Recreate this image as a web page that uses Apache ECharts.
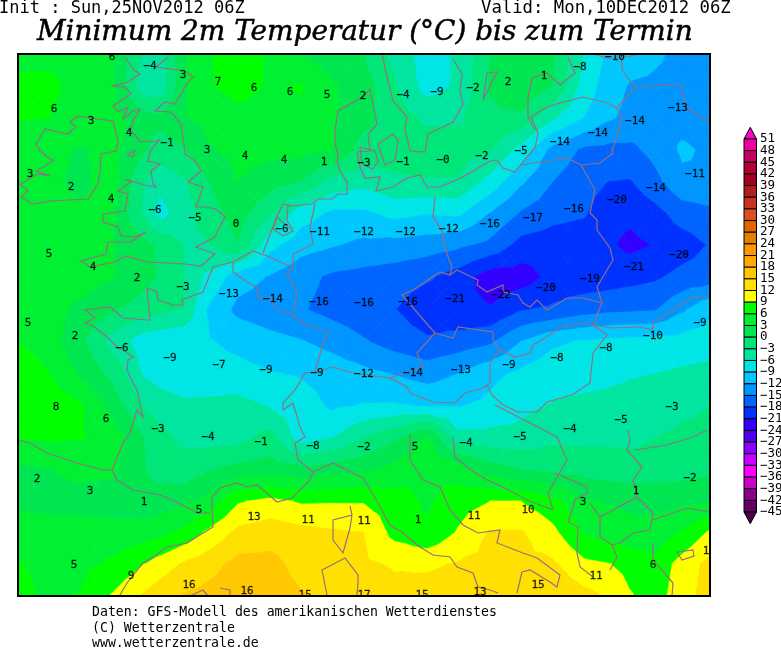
<!DOCTYPE html>
<html><head><meta charset="utf-8">
<style>html,body{margin:0;padding:0;background:#fff}#c{width:781px;height:648px}</style>
<script src="https://cdn.jsdelivr.net/npm/echarts@6/dist/echarts.min.js"></script>
</head><body><div id="c"></div>
<script>
const mapX=[18,49,81,112,144,160,184,207,238,270,301,333,364,395,427,458,490,521,553,584,608,630,655,682,710];
const mapY=[54,86,118,150,182,213,245,277,309,341,373,405,437,469,501,532,564,596];
const t00=[5.3,5.5,5,3.6,-3.2,-4,2.8,5.8,7,5.8,3,1.5,0,-4,-7.5,-5.5,0,2,0.5,-6,-9.5,-10.5,-11.5,-12.7,-13.5];
const t01=[6.5,6.5,5.3,3.7,-5,-5,2.7,5.7,7,5.7,6.2,3.3,1.5,-2.7,-7.2,-5.5,0.5,2.8,0,-7,-10.5,-12.2,-12.5,-13,-13.5];
const t02=[6.2,6,5,4.5,1.5,0.8,2.8,3.8,5.2,5,5.6,3.5,1,-1.5,-3.5,-3.5,-0.8,-0.5,-5.5,-9,-11.5,-12.8,-13,-13,-13.5];
const t03=[5,4,2.7,4,0.3,-1.2,-0.2,2.6,4,4,4,3.1,-1.2,-1.5,-1.5,-1.5,-2.7,-7,-13,-15.5,-15.8,-15.7,-14,-11.5,-12.5];
const t04=[5,3.5,2.4,4.5,-2.8,-5,-3.3,-0.2,3,1.3,0,-4,-5,-3.5,-3.2,-3.2,-7,-11.5,-15,-16.7,-18,-18.2,-15.8,-12.7,-12.3];
const t05=[5,3.7,3.5,3.5,-3.2,-7,-4.3,-1.5,1.5,-2.3,-7.5,-9.5,-9.5,-8,-8.7,-8.3,-12,-15.2,-17,-17.6,-20,-20.3,-19,-16.5,-15.7];
const t06=[5,5,4.7,3.2,1,-0.5,-3,-3.3,0,-8,-10.7,-11.7,-12.7,-13,-13.5,-14.3,-15.7,-19,-19.5,-19.8,-20.5,-21.7,-20.8,-19.5,-17.7];
const t07=[5,5,4.5,3.2,1,-0.2,-3,-6.5,-10.5,-12.2,-14,-15.5,-16,-16.5,-17.5,-19.3,-22.5,-22.5,-20,-19.8,-19.5,-19,-18.4,-17,-16.5];
const t08=[5.2,4.2,2.3,0.5,-1.2,-2,-3,-9,-12.8,-13.8,-14.7,-16,-17,-17.9,-20,-20.5,-20.8,-18.2,-17.5,-16.3,-15.7,-15.5,-15.2,-12.5,-9.6];
const t09=[6,4.5,0.8,-4,-7.5,-8,-8.4,-8.7,-9.8,-11,-11.8,-13,-14.7,-16.3,-17.5,-16.7,-15.5,-12,-9.5,-8.7,-8.3,-8,-8,-7.8,-7.5];
const t10=[8,6,2.5,-0.8,-6.3,-7.3,-8,-7.8,-8,-8.8,-9.3,-10.3,-11.2,-12.2,-13.3,-12,-9.8,-8.4,-7.2,-6.8,-6.5,-6.2,-6,-5.5,-5];
const t11=[8.5,8,6.3,2,-3.2,-4.5,-5.4,-5.3,-5,-6.2,-7.5,-9.5,-8.8,-8.7,-9.3,-9.2,-8.3,-6.8,-5.8,-5.5,-5.4,-5.2,-4.8,-3.8,-3];
const t12=[6.3,6.5,6.3,5,0,-2,-3.8,-4.3,-4,-2,-7.5,-6,-3,-0.5,3.5,-5,-5,-5,-3.7,-3.7,-3.6,-3.7,-3,-2.3,-2];
const t13=[2.5,3,3.8,3.7,0.3,-1.2,-1.8,-0.2,1,1.5,0.8,1.5,2.5,4,6,4.5,1.5,0,-0.7,-1.2,-1.5,-1.7,-1.5,-1.2,-0.7];
const t14=[2.6,2.3,2,1.5,1.2,1.5,2.3,3.8,8.7,10,8.7,8.8,8.8,7.5,5.5,7.7,9,9,7,3.5,2.8,2.2,2,2.2,2.7];
const t15=[4,4,4.2,4.3,4.5,5,6.8,9.5,12.8,13.7,13,12.4,12,8,6.5,9.3,12.3,12.3,9.8,5.7,4.8,4.3,4,6.3,9.5];
const t16=[6.2,5.3,5.3,6.5,9,10.5,12.5,13.8,16,16,14,13,12.5,11.7,11.5,12.3,13,12.8,12.5,9.8,9.2,8,7,10.3,13];
const t17=[6.8,5.5,6.2,9.3,12.5,13.8,15.3,16,17,16.7,15.3,14,14,13,13.5,14,14.7,14.5,14.5,13,11.8,9.3,7.8,10.7,13.5];
const field=[t00,t01,t02,t03,t04,t05,t06,t07,t08,t09,t10,t11,t12,t13,t14,t15,t16,t17];

const scaleTicks=[51,48,45,42,39,36,33,30,27,24,21,18,15,12,9,6,3,0,-3,-6,-9,-12,-15,-18,-21,-24,-27,-30,-33,-36,-39,-42,-45];
// one colour per band, from above 51 down to below -45
const bandColors=['#ff00c8','#f000a0','#c80064','#b40032','#a50020','#b41e1e','#c83220','#dc5020','#e66400','#e08200','#ff9600','#ffaa00','#ffc800','#ffe000','#ffff00','#00ff00','#00f032','#00e650','#00e678','#00e6a0','#00e6e6','#00c8ff','#0096ff','#0064ff','#0032ff','#3200ff','#5000f0','#8c00ff','#c800ff','#ff00ff','#c800c8','#8c008c','#640064','#4b004b'];

const stationLabels=[
[112,57,'6'],[150,66,'−4'],[183,75,'3'],[218,82,'7'],[254,88,'6'],[290,92,'6'],[327,95,'5'],[363,96,'2'],[403,95,'−4'],[437,92,'−9'],[473,88,'−2'],[508,82,'2'],[544,76,'1'],[580,67,'−8'],[615,57,'−10'],
[678,108,'−13'],[635,121,'−14'],[598,133,'−14'],[560,142,'−14'],[521,151,'−5'],[482,156,'−2'],[443,160,'−0'],[403,162,'−1'],[364,163,'−3'],[324,162,'1'],[284,160,'4'],[245,156,'4'],[207,150,'3'],[167,143,'−1'],[129,133,'4'],[91,121,'3'],[54,109,'6'],
[30,174,'3'],[71,187,'2'],[111,199,'4'],[155,210,'−6'],[195,218,'−5'],[236,224,'0'],[282,229,'−6'],[320,232,'−11'],[364,232,'−12'],[406,232,'−12'],[449,229,'−12'],[490,224,'−16'],[533,218,'−17'],[574,209,'−16'],[617,200,'−20'],[656,188,'−14'],[695,174,'−11'],
[49,254,'5'],[93,267,'4'],[137,278,'2'],[183,287,'−3'],[229,294,'−13'],[273,299,'−14'],[319,302,'−16'],[364,303,'−16'],[408,302,'−16'],[455,299,'−21'],[501,295,'−22'],[546,288,'−20'],[590,279,'−19'],[634,267,'−21'],[679,255,'−20'],
[28,323,'5'],[75,336,'2'],[122,348,'−6'],[170,358,'−9'],[219,365,'−7'],[266,370,'−9'],[317,373,'−9'],[364,374,'−12'],[413,373,'−14'],[461,370,'−13'],[509,365,'−9'],[557,358,'−8'],[606,348,'−8'],[653,336,'−10'],[700,323,'−9'],
[56,407,'8'],[106,419,'6'],[158,429,'−3'],[208,437,'−4'],[261,442,'−1'],[313,446,'−8'],[364,447,'−2'],[415,447,'5'],[466,443,'−4'],[520,437,'−5'],[570,429,'−4'],[621,420,'−5'],[672,407,'−3'],
[37,479,'2'],[90,491,'3'],[144,502,'1'],[199,510,'5'],[254,517,'13'],[308,520,'11'],[364,521,'11'],[418,520,'1'],[474,516,'11'],[528,510,'10'],[583,502,'3'],[636,491,'1'],[690,478,'−2'],
[74,565,'5'],[131,576,'9'],[189,585,'16'],[247,591,'16'],[305,595,'15'],[364,595,'17'],[422,595,'15'],[480,592,'13'],[538,585,'15'],[596,576,'11'],[653,565,'6'],[706,551,'1']];

const borderLines=[
[[125,57],[133,69],[140,74],[128,82],[113,86],[125,87],[131,94],[113,106],[118,112],[128,107],[123,119],[133,111],[140,109],[133,121],[131,131],[136,136],[140,142],[158,141],[160,139],[150,151],[148,161],[160,164],[151,171],[153,184],[156,187],[148,186],[125,179],[131,182],[118,191],[128,194],[125,211],[103,214],[103,222],[118,227],[121,236],[135,237],[146,232],[131,242],[108,242],[106,254],[81,261],[90,267],[115,262],[125,256],[148,262],[185,264],[201,266],[215,254],[196,247],[215,237],[225,217],[216,209],[205,207],[196,207],[203,187],[188,182],[201,171],[195,161],[185,154],[183,137],[181,124],[171,112],[155,111],[165,102],[175,104],[188,82],[193,77],[185,71],[156,67],[168,57]],
[[70,122],[78,116],[98,119],[113,121],[118,141],[116,151],[101,154],[100,171],[98,184],[88,199],[51,201],[33,204],[21,197],[28,191],[20,184],[38,174],[50,176],[36,171],[53,161],[40,151],[36,144],[45,129],[58,132],[68,134],[76,127],[70,122]],
[[127,155],[135,150],[133,157],[127,155]],
[[112,470],[123,443],[130,433],[137,410],[143,417],[137,390],[133,383],[127,370],[128,360],[133,357],[123,350],[117,347],[107,337],[95,327],[85,323],[95,318],[85,310],[110,307],[123,318],[147,320],[150,320],[147,288],[157,292],[158,300],[173,305],[183,305],[182,300],[203,292],[213,267],[233,262],[253,251],[270,257],[280,262],[293,267]],
[[263,253],[268,240],[277,216],[283,204],[290,206],[313,204],[318,199],[332,199],[338,194],[347,194],[347,182],[340,171],[337,161],[338,154],[335,144],[335,131],[338,111],[363,97],[370,89],[373,104],[377,124],[368,134],[370,151],[357,152],[360,167],[365,178],[380,177],[376,191],[393,187],[407,178],[420,175],[427,187],[440,187],[463,177],[490,161],[497,160],[503,168],[515,172],[527,157],[535,148],[538,133],[531,117],[547,107],[560,103],[583,97],[607,103],[617,108],[635,87],[663,85],[680,85],[687,107],[697,115],[710,122]],
[[378,144],[393,134],[398,140],[395,160],[385,165],[378,144]],
[[360,147],[375,151],[378,161],[373,169],[362,164],[360,147]],
[[277,217],[293,231],[283,236],[273,229],[277,217]],
[[288,204],[287,221],[293,229]],
[[315,204],[310,227],[313,244],[293,254],[293,267],[287,274],[293,284]],
[[233,262],[233,272],[247,282],[257,287],[258,298],[270,298],[277,310],[293,315],[302,323],[328,332],[322,347],[315,372],[305,373],[295,390],[283,403],[283,410],[293,403],[298,420],[300,427],[305,437],[295,443],[298,460],[313,472],[310,480],[292,498],[277,502],[263,490],[257,485],[247,487],[237,483],[220,488],[212,497],[212,510],[213,527],[187,543],[167,547],[153,557],[143,563],[127,583],[120,595]],
[[293,284],[297,293],[293,315]],
[[112,470],[117,480],[133,490],[160,495],[173,500],[197,513],[210,513]],
[[18,440],[30,443],[47,453],[77,463],[103,470],[112,470]],
[[315,372],[333,367],[353,373],[390,378],[407,387],[410,393],[433,402],[455,403],[465,393],[483,388],[487,385],[492,395],[503,405],[518,412],[537,412],[547,402],[572,395],[590,383],[593,353],[607,335],[593,325]],
[[390,378],[422,367],[417,353],[435,333],[402,295],[413,290],[440,272],[450,275],[457,270],[478,280],[477,285],[487,292],[503,285],[503,292],[518,295],[523,303],[530,307],[537,300],[547,310],[567,298],[583,298],[602,303],[597,287],[613,260],[610,248],[597,230],[597,220],[590,213],[595,190],[581,165],[567,158],[520,165]],
[[435,197],[433,217],[442,231],[447,254],[452,267],[450,275]],
[[435,333],[453,338],[458,327],[493,332],[493,340],[500,350],[515,357],[530,353],[533,345],[545,338],[560,327],[582,323],[593,325],[612,328],[640,327],[653,330],[653,323],[677,307],[692,297],[710,298]],
[[500,350],[490,363],[490,383],[487,385]],
[[602,303],[593,325]],
[[617,108],[622,117],[615,143],[612,150],[613,153],[600,163],[582,165]],
[[622,70],[635,87]],[[622,54],[622,70]],[[595,54],[605,58],[622,58],[640,54]],
[[535,130],[528,117],[528,97],[532,78],[547,73],[560,85],[575,73],[568,57]],
[[382,54],[388,81],[393,101],[407,117],[405,129],[410,151],[425,152],[428,134],[453,122],[463,104],[460,91],[462,74],[453,59]],
[[483,100],[497,72],[487,73],[483,100]],
[[453,437],[455,457],[468,468],[487,480],[503,487],[527,500],[553,510]],
[[410,435],[410,460],[423,480],[440,487],[450,510],[463,525],[478,533],[500,530],[497,543],[523,553],[537,558],[560,575],[557,587],[550,582],[530,570],[522,572],[517,593]],
[[390,525],[403,533],[420,547],[433,555],[450,557],[457,567],[473,573],[478,587],[490,590],[498,593]],
[[313,472],[333,463],[363,478],[375,498],[390,525]],
[[350,506],[352,515],[333,520],[333,540],[343,553],[350,528],[352,515]],
[[327,595],[322,570],[345,558],[358,575],[358,583],[357,595]],
[[495,405],[557,437],[567,460],[548,493],[553,510]],
[[555,473],[587,487],[587,493],[575,500],[568,522],[578,527],[577,553],[580,567],[593,577]],
[[590,503],[600,517],[600,537],[612,545],[617,557],[610,570]],
[[600,517],[637,497],[653,513],[650,530],[633,533],[620,543],[612,545]],
[[637,497],[633,480],[642,467],[627,450],[630,440],[628,430]],
[[653,520],[687,508],[710,512]],
[[653,543],[653,560],[673,583],[672,596]],
[[635,450],[667,445],[693,437],[707,430]],
[[677,552],[693,550],[694,556],[682,560],[677,552]],
[[190,596],[203,590],[208,596]],[[220,588],[230,590],[230,596]]
];

function clipBand(poly,limit,keepAbove){
  const out=[];
  for(let i=0;i<poly.length;i++){
    const a=poly[i],b=poly[(i+1)%poly.length];
    const ina=keepAbove?a[2]>=limit:a[2]<=limit, inb=keepAbove?b[2]>=limit:b[2]<=limit;
    if(ina) out.push(a);
    if(ina!==inb){const t=(limit-a[2])/(b[2]-a[2]);out.push([a[0]+t*(b[0]-a[0]),a[1]+t*(b[1]-a[1]),limit]);}
  }
  return out;
}
function bandOf(k){
  const hi=k===0?Infinity:scaleTicks[k-1], lo=k===scaleTicks.length?-Infinity:scaleTicks[k];
  return [lo,hi];
}
function renderCell(params,api){
  const i=api.value(0),j=api.value(1);
  const p=(c,r)=>[mapX[c],mapY[r],field[r][c]];
  const A=p(i,j),B=p(i+1,j),C=p(i+1,j+1),D=p(i,j+1);
  const M=[(A[0]+C[0])/2,(A[1]+C[1])/2,(A[2]+B[2]+C[2]+D[2])/4];
  const tris=[[A,B,M],[B,C,M],[C,D,M],[D,A,M]];
  const children=[];
  tris.forEach(tr=>{
    const vs=tr.map(q=>q[2]),mn=Math.min(...vs),mx=Math.max(...vs);
    bandColors.forEach((col,k)=>{
      const [lo,hi]=bandOf(k);
      if(hi<=mn||lo>=mx) return;
      let poly=tr;
      if(lo>-Infinity) poly=clipBand(poly,lo,true);
      if(poly.length&&hi<Infinity) poly=clipBand(poly,hi,false);
      if(poly.length<3) return;
      children.push({type:'polygon',shape:{points:poly.map(q=>api.coord([q[0],q[1]]))},style:{fill:col,stroke:col,lineWidth:0.8}});
    });
  });
  return {type:'group',children};
}
function renderKey(params,api){
  const k=api.value(0);
  const col=bandColors[k];
  let pts;
  if(k===0) pts=[[0,51],[1,51],[0.5,54]];
  else if(k===bandColors.length-1) pts=[[0,-45],[1,-45],[0.5,-48]];
  else {const [lo,hi]=bandOf(k);pts=[[0,lo],[1,lo],[1,hi],[0,hi]];}
  return {type:'polygon',shape:{points:pts.map(q=>api.coord(q))},style:{fill:col,stroke:'#000',lineWidth:1}};
}
const cells=[];
for(let j=0;j<mapY.length-1;j++)for(let i=0;i<mapX.length-1;i++)cells.push([i,j]);

const mono='"DejaVu Sans Mono"';
const chart=echarts.init(document.getElementById('c'),null,{renderer:'canvas'});
chart.setOption({
  animation:false,
  backgroundColor:'#fff',
  title:[
    {text:'Init : Sun,25NOV2012 06Z',left:-6,top:-5,textStyle:{fontFamily:mono,fontSize:17,fontWeight:'normal',color:'#000'}},
    {text:'Valid: Mon,10DEC2012 06Z',left:476,top:-5,textStyle:{fontFamily:mono,fontSize:17.3,fontWeight:'normal',color:'#000'}},
    {text:'Minimum 2m Temperatur (°C) bis zum Termin',left:32,top:14,textStyle:{fontFamily:'"DejaVu Serif"',fontStyle:'italic',fontSize:27.9,fontWeight:'normal',color:'#000',textBorderColor:'#000',textBorderWidth:0.5}},
    {text:'Daten: GFS-Modell des amerikanischen Wetterdienstes',left:87,top:601,textStyle:{fontFamily:mono,fontSize:13.2,fontWeight:'normal',color:'#000'}},
    {text:'(C) Wetterzentrale',left:87,top:617,textStyle:{fontFamily:mono,fontSize:13.2,fontWeight:'normal',color:'#000'}},
    {text:'www.wetterzentrale.de',left:87,top:632,textStyle:{fontFamily:mono,fontSize:13.2,fontWeight:'normal',color:'#000'}}
  ],
  grid:[
    {left:18,top:54,width:692,height:542,outerBoundsMode:'none'},
    {left:744,top:127.3,width:12.5,height:396.4,outerBoundsMode:'none'}
  ],
  xAxis:[
    {type:'value',gridIndex:0,min:18,max:710,show:false},
    {type:'value',gridIndex:1,min:0,max:1,show:false}
  ],
  yAxis:[
    {type:'value',gridIndex:0,min:54,max:596,inverse:true,show:false},
    {type:'value',gridIndex:1,min:-48,max:54,interval:3,position:'right',
     axisLine:{show:false},axisTick:{show:false},splitLine:{show:false},
     axisLabel:{margin:3.5,fontFamily:mono,fontSize:12.5,color:'#000',showMinLabel:true,showMaxLabel:true,
       formatter:v=>(v<-45||v>51)?'':String(v).replace('-','−')}}
  ],
  series:[
    {type:'custom',name:'temperature',xAxisIndex:0,yAxisIndex:0,data:cells,renderItem:renderCell,silent:true,z:1,clip:true,encode:{x:0,y:1}},
    {type:'lines',name:'borders',coordinateSystem:'cartesian2d',xAxisIndex:0,yAxisIndex:0,polyline:true,silent:true,z:2,
     data:borderLines.map(c=>({coords:c})),lineStyle:{color:'#94707e',width:1.2,opacity:1}},
    {type:'scatter',name:'labels',xAxisIndex:0,yAxisIndex:0,symbolSize:0,silent:true,z:3,clip:false,
     data:stationLabels,label:{show:true,position:'inside',formatter:p=>p.data[2],fontFamily:mono,fontSize:11,color:'#000',textBorderColor:'#000',textBorderWidth:0.3}},
    {type:'custom',name:'key',xAxisIndex:1,yAxisIndex:1,data:bandColors.map((c,k)=>[k]),renderItem:renderKey,silent:true,z:1,clip:false,encode:{y:0}}
  ],
  graphic:[
    {type:'rect',z:100,shape:{x:18,y:597,width:693,height:6},style:{fill:'#fff'}},
    {type:'rect',z:100,shape:{x:18,y:46,width:693,height:7},style:{fill:'#fff'}},
    {type:'rect',z:101,shape:{x:18,y:54,width:692,height:542},style:{fill:'none',stroke:'#000',lineWidth:2}}
  ]
});
</script></body></html>
